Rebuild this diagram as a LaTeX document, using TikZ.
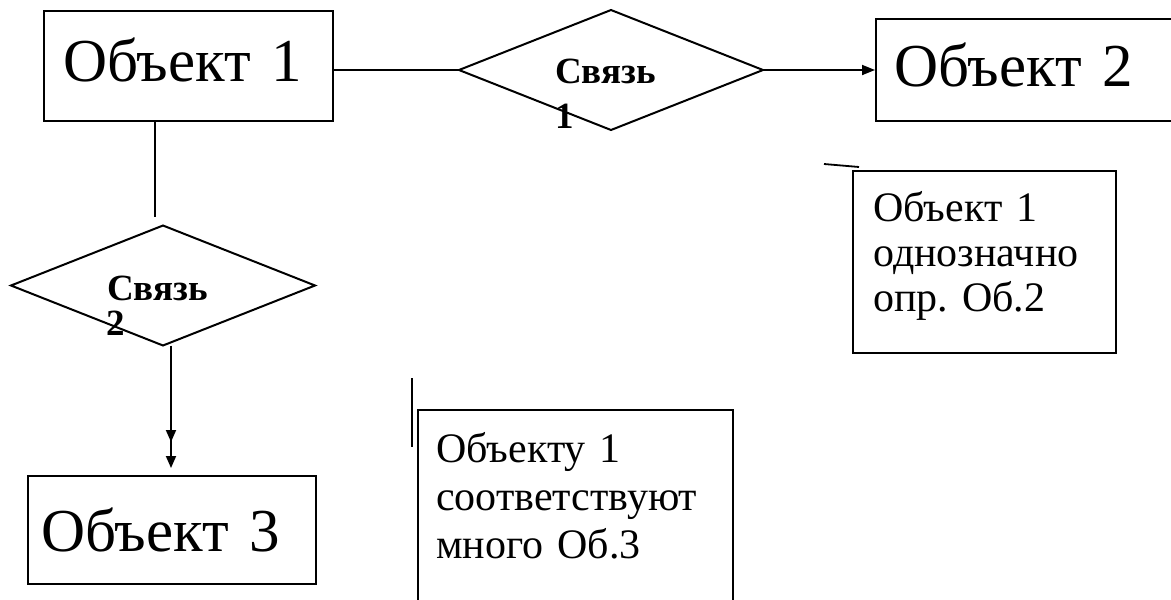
\documentclass[tikz,border=0pt]{standalone}
\usepackage{fontspec}
\setmainfont{Liberation Serif}
\usetikzlibrary{shapes.geometric,arrows.meta}
\frenchspacing

\begin{document}
\begin{tikzpicture}[x=1pt,y=-1pt,
  objbox/.style={draw, line width=2.4pt, anchor=north west, align=left, inner ysep=0pt},
  bigtext/.style={font=\fontsize{61}{70}\selectfont},
  notetext/.style={font=\fontsize{42}{45}\selectfont},
  relbox/.style={draw, diamond, line width=2pt, minimum width=304pt, minimum height=120pt, inner sep=0pt, outer sep=0pt},
  reltext/.style={draw=none, anchor=base west, inner sep=0pt, font=\fontsize{37}{40}\selectfont\bfseries},
  link/.style={line width=1.8pt}]

\useasboundingbox (0,0) rectangle (1171,600);
\fill [white] (0,0) rectangle (1171,600);
\clip (0,0) rectangle (1171,600);

\node [objbox, bigtext, inner xsep=19pt, text width=251pt, text height=70pt, text depth=40pt] (obj1) at (43,10) {Объект 1};
\node [objbox, bigtext, inner xsep=18pt, text width=320pt, text height=67pt, text depth=35pt] (obj2) at (875,18) {Объект 2};
\node [objbox, bigtext, inner xsep=13pt, text width=262pt, text height=75pt, text depth=33pt] (obj3) at (27,475) {Объект 3};

\node [relbox] (rel1) at (611,70) {};
\node [relbox] (rel2) at (163,285.5) {};

\node [reltext] (rel1a) at (555,83) {Связь};
\node [reltext] (rel1b) at (555,128) {1};
\node [reltext] (rel2a) at (107,300) {Связь};
\node [reltext] (rel2b) at (106,335) {2};

\node [objbox, notetext, inner xsep=20pt, text width=223pt, text height=50pt, text depth=132pt] (note1) at (852,170) {Объект 1\\однозначно\\опр. Об.2};
\node [objbox, notetext, font=\fontsize{42}{48}\selectfont, inner xsep=18pt, text width=279pt, text height=52pt, text depth=220pt] (note2) at (417,409) {Объекту 1\\соответствуют\\много Об.3};

\draw [link] (obj1.east |- rel1.west) -- (rel1.west);
\draw [link, -{Triangle[length=13pt,width=10pt]}] (rel1.east) -- (obj2.west |- rel1.east); % one
\coordinate (drop1) at (155,217);
\draw [link] (obj1.south -| drop1) -- (drop1);
\draw [link, shorten >=7pt, -{Triangle[length=12pt,width=10pt,sep=14pt]Triangle[length=12pt,width=10pt]}]
  ([xshift=8pt]rel2.south) -- ([xshift=8pt]rel2.south |- obj3.north); % many

\coordinate (tick1) at (824,164);
\coordinate (tick2) at (859,167);
\draw [link] (tick1) -- (tick2);
\coordinate (bar1) at (412,378);
\coordinate (bar2) at (412,447);
\draw [link] (bar1) -- (bar2);

\end{tikzpicture}
\end{document}
